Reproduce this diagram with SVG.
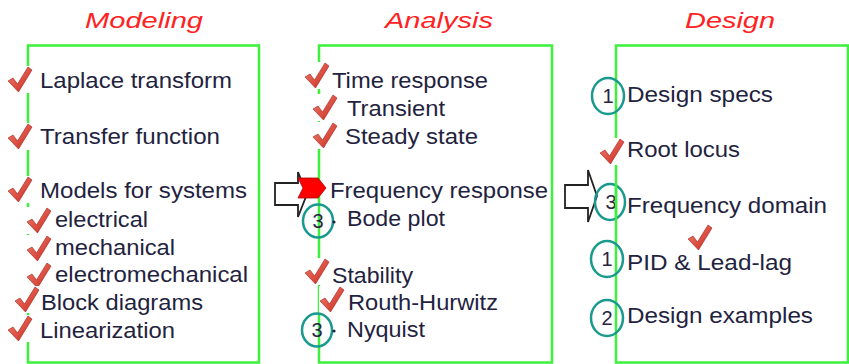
<svg xmlns="http://www.w3.org/2000/svg" xmlns:xlink="http://www.w3.org/1999/xlink" width="849" height="364" viewBox="0 0 849 364">
<style>
.title{font-family:"Liberation Sans",Arial,sans-serif;font-size:22px;font-style:italic;fill:#ff2222;text-anchor:middle}
.t{font-family:"Liberation Sans",Arial,sans-serif;font-size:22px;fill:#1f2340}
.box{fill:none;stroke:#3cf03c;stroke-width:2.5}
.num{fill:none;stroke:#1a9a8e;stroke-width:2.5}
.d{font-family:"Liberation Sans",Arial,sans-serif;font-size:20px;fill:#2a2440;text-anchor:middle}
.arr{fill:#fff;stroke:#222;stroke-width:1.8;stroke-linejoin:miter}
</style>
<defs>
<linearGradient id="cg" x1="0" y1="0" x2="1" y2="1">
<stop offset="0" stop-color="#f3826f"/>
<stop offset="1" stop-color="#c8261e"/>
</linearGradient>
<g id="chk">
<rect x="-1" y="-1" width="26" height="27" fill="#fff"/>
<path d="M0,14 L5,11 L9.5,17 L20,0 L24,3 L10.5,25 Z" fill="url(#cg)" stroke="#a01e18" stroke-width="0.6"/>
</g>
</defs>

<g id="titles">
<text class="title" x="144" y="28" textLength="118" lengthAdjust="spacingAndGlyphs">Modeling</text>
<text class="title" x="439" y="28" textLength="108" lengthAdjust="spacingAndGlyphs">Analysis</text>
<text class="title" x="730" y="28" textLength="90" lengthAdjust="spacingAndGlyphs">Design</text>
</g>

<g id="modeling">
<rect class="box" x="28" y="45.5" width="231" height="317"/>
<use xlink:href="#chk" x="8" y="67"/>
<use xlink:href="#chk" x="8" y="124"/>
<use xlink:href="#chk" x="8" y="177"/>
<use xlink:href="#chk" x="27" y="208"/>
<use xlink:href="#chk" x="27" y="236"/>
<use xlink:href="#chk" x="27" y="263"/>
<use xlink:href="#chk" x="15" y="287"/>
<use xlink:href="#chk" x="8" y="316"/>
<text class="t" x="40" y="88" textLength="192" lengthAdjust="spacingAndGlyphs">Laplace transform</text>
<text class="t" x="40" y="144" textLength="180" lengthAdjust="spacingAndGlyphs">Transfer function</text>
<text class="t" x="40" y="198" textLength="207" lengthAdjust="spacingAndGlyphs">Models for systems</text>
<text class="t" x="55" y="227" textLength="93" lengthAdjust="spacingAndGlyphs">electrical</text>
<text class="t" x="55" y="255" textLength="120" lengthAdjust="spacingAndGlyphs">mechanical</text>
<text class="t" x="55" y="282" textLength="193" lengthAdjust="spacingAndGlyphs">electromechanical</text>
<text class="t" x="41" y="310" textLength="162" lengthAdjust="spacingAndGlyphs">Block diagrams</text>
<text class="t" x="40" y="338" textLength="135" lengthAdjust="spacingAndGlyphs">Linearization</text>
</g>

<g id="analysis">
<rect class="box" x="319" y="45.5" width="233" height="317"/>
<use xlink:href="#chk" x="305" y="63"/>
<use xlink:href="#chk" x="313" y="95"/>
<use xlink:href="#chk" x="313" y="123"/>
<use xlink:href="#chk" x="305" y="259"/>
<use xlink:href="#chk" x="320" y="287"/>
<text class="t" x="332" y="88" textLength="156" lengthAdjust="spacingAndGlyphs">Time response</text>
<text class="t" x="347" y="116" textLength="98" lengthAdjust="spacingAndGlyphs">Transient</text>
<text class="t" x="345" y="144" textLength="133" lengthAdjust="spacingAndGlyphs">Steady state</text>
<text class="t" x="330" y="198" textLength="218" lengthAdjust="spacingAndGlyphs">Frequency response</text>
<text class="t" x="347" y="226" textLength="98" lengthAdjust="spacingAndGlyphs">Bode plot</text>
<text class="t" x="332" y="283" textLength="81" lengthAdjust="spacingAndGlyphs">Stability</text>
<text class="t" x="348" y="310" textLength="150" lengthAdjust="spacingAndGlyphs">Routh-Hurwitz</text>
<text class="t" x="347" y="337" textLength="78" lengthAdjust="spacingAndGlyphs">Nyquist</text>
<ellipse class="num" cx="318" cy="221" rx="15" ry="16.5"/>
<text class="d" x="318" y="228">3</text>
<circle cx="334" cy="222" r="1.6" fill="#1f2340"/>
<ellipse class="num" cx="317" cy="330" rx="15" ry="16.5"/>
<text class="d" x="317" y="337">3</text>
<circle cx="334" cy="331" r="1.6" fill="#1f2340"/>
</g>

<g id="design">
<rect class="box" x="616" y="45.5" width="232" height="317"/>
<use xlink:href="#chk" x="600" y="139"/>
<use xlink:href="#chk" x="688" y="225"/>
<text class="t" x="627" y="102" textLength="146" lengthAdjust="spacingAndGlyphs">Design specs</text>
<text class="t" x="627" y="157" textLength="113" lengthAdjust="spacingAndGlyphs">Root locus</text>
<text class="t" x="627" y="213" textLength="200" lengthAdjust="spacingAndGlyphs">Frequency domain</text>
<text class="t" x="627" y="270" textLength="165" lengthAdjust="spacingAndGlyphs">PID &amp; Lead-lag</text>
<text class="t" x="627" y="323" textLength="186" lengthAdjust="spacingAndGlyphs">Design examples</text>
<ellipse class="num" cx="608" cy="96" rx="16" ry="18"/>
<text class="d" x="608" y="103">1</text>
<ellipse class="num" cx="607" cy="259" rx="16" ry="18"/>
<text class="d" x="607" y="266">1</text>
<ellipse class="num" cx="607" cy="318" rx="16" ry="18"/>
<text class="d" x="607" y="325">2</text>
</g>

<g id="connectors">
<polygon class="arr" points="275,183 298,183 298,172 307,194 298,217 298,205 275,205"/>
<polygon points="298,178 318,178 326,188 318,198 298,198 303,188" fill="#ff0000" stroke="#b00000" stroke-width="0.8"/>
<polygon class="arr" points="565,185 588,185 588,170 597,196 588,222 588,208 565,208"/>
<ellipse class="num" cx="610" cy="202" rx="15" ry="18" fill="#fff"/>
<text class="d" x="611" y="209">3</text>
<line x1="616" y1="184" x2="616" y2="220" stroke="#3cf03c" stroke-width="2.5"/>
</g>
</svg>
